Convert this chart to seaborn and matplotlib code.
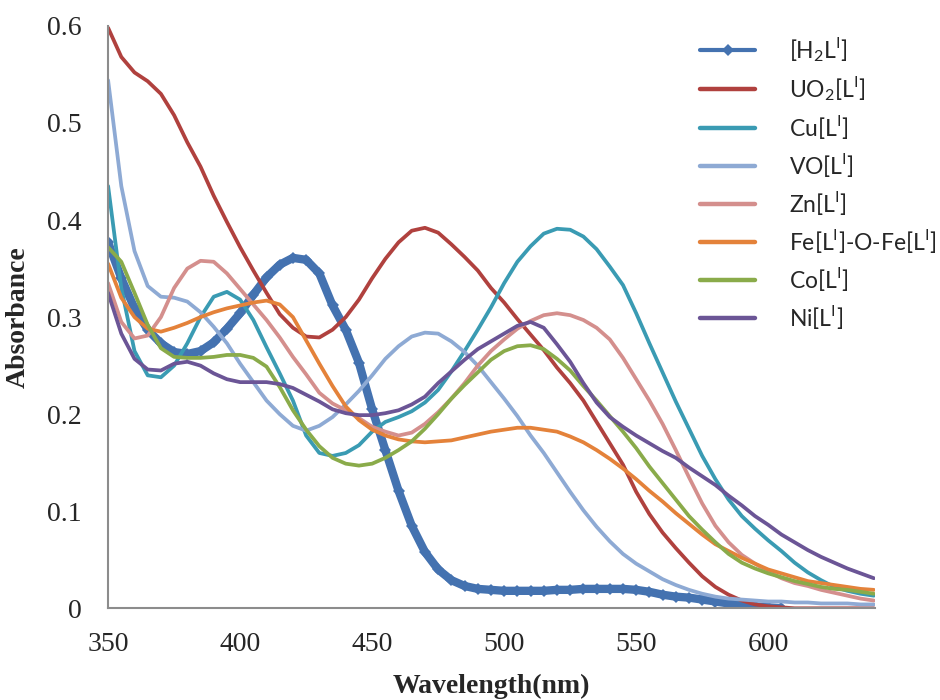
import matplotlib
matplotlib.use("Agg")
import matplotlib.pyplot as plt
import seaborn as sns
from matplotlib.lines import Line2D

# wavelength grids (nm)
wl = list(range(350, 645, 5))
wl_h2l = list(range(350, 610, 5))

h2l = [0.377, 0.340, 0.309, 0.287, 0.273, 0.264, 0.262, 0.265, 0.274, 0.288,
       0.304, 0.323, 0.341, 0.354, 0.361, 0.359, 0.345, 0.312, 0.287, 0.253,
       0.205, 0.163, 0.121, 0.085, 0.058, 0.040, 0.029, 0.023, 0.020, 0.019,
       0.018, 0.018, 0.018, 0.018, 0.019, 0.019, 0.020, 0.020, 0.020, 0.020,
       0.019, 0.017, 0.014, 0.012, 0.011, 0.009, 0.007, 0.005, 0.003, 0.002,
       0.001, 0.000]

uo2 = [0.598, 0.568, 0.552, 0.543, 0.530, 0.508, 0.480, 0.455, 0.425, 0.398,
       0.372, 0.348, 0.325, 0.303, 0.289, 0.280, 0.279, 0.287, 0.300, 0.318,
       0.340, 0.360, 0.377, 0.389, 0.392, 0.387, 0.375, 0.362, 0.348, 0.330,
       0.315, 0.298, 0.282, 0.266, 0.248, 0.232, 0.214, 0.192, 0.170, 0.148,
       0.120, 0.097, 0.078, 0.062, 0.047, 0.033, 0.022, 0.014, 0.008, 0.004,
       0.002, 0.001, 0.000, 0.000, 0.000, 0.000, 0.000, 0.000, 0.000]

cu = [0.435, 0.330, 0.265, 0.240, 0.238, 0.250, 0.273, 0.300, 0.321, 0.326,
      0.318, 0.297, 0.269, 0.242, 0.214, 0.178, 0.160, 0.157, 0.160, 0.168,
      0.182, 0.192, 0.197, 0.203, 0.212, 0.225, 0.244, 0.265, 0.287, 0.310,
      0.335, 0.357, 0.373, 0.386, 0.391, 0.390, 0.383, 0.370, 0.352, 0.333,
      0.304, 0.273, 0.243, 0.213, 0.185, 0.157, 0.133, 0.112, 0.095, 0.082,
      0.070, 0.059, 0.047, 0.037, 0.029, 0.022, 0.018, 0.015, 0.013]

vo = [0.544, 0.435, 0.368, 0.332, 0.321, 0.320, 0.316, 0.305, 0.290, 0.273,
      0.252, 0.233, 0.214, 0.200, 0.188, 0.183, 0.188, 0.197, 0.210, 0.224,
      0.240, 0.257, 0.270, 0.280, 0.284, 0.283, 0.275, 0.264, 0.250, 0.233,
      0.216, 0.198, 0.178, 0.160, 0.140, 0.120, 0.101, 0.084, 0.069, 0.056,
      0.046, 0.038, 0.030, 0.024, 0.019, 0.015, 0.012, 0.010, 0.009, 0.008,
      0.007, 0.007, 0.006, 0.006, 0.005, 0.005, 0.005, 0.004, 0.004]

zn = [0.335, 0.295, 0.278, 0.281, 0.300, 0.330, 0.350, 0.358, 0.357, 0.345,
      0.329, 0.313, 0.297, 0.279, 0.259, 0.241, 0.222, 0.211, 0.204, 0.196,
      0.187, 0.182, 0.178, 0.181, 0.190, 0.202, 0.216, 0.232, 0.250, 0.265,
      0.277, 0.288, 0.296, 0.302, 0.304, 0.302, 0.297, 0.289, 0.277, 0.258,
      0.236, 0.214, 0.190, 0.163, 0.135, 0.108, 0.085, 0.068, 0.055, 0.046,
      0.038, 0.031, 0.026, 0.023, 0.019, 0.016, 0.013, 0.010, 0.008]

fe = [0.355, 0.320, 0.300, 0.288, 0.285, 0.289, 0.294, 0.300, 0.305, 0.309,
      0.312, 0.315, 0.317, 0.313, 0.300, 0.276, 0.252, 0.229, 0.208, 0.194,
      0.184, 0.178, 0.174, 0.172, 0.171, 0.172, 0.173, 0.176, 0.179, 0.182,
      0.184, 0.186, 0.186, 0.184, 0.182, 0.177, 0.171, 0.163, 0.154, 0.144,
      0.133, 0.121, 0.110, 0.098, 0.087, 0.076, 0.066, 0.059, 0.052, 0.046,
      0.040, 0.036, 0.032, 0.028, 0.026, 0.024, 0.022, 0.020, 0.019]

co = [0.372, 0.357, 0.325, 0.292, 0.268, 0.259, 0.258, 0.258, 0.259, 0.261,
      0.261, 0.258, 0.249, 0.228, 0.204, 0.184, 0.167, 0.155, 0.149, 0.147,
      0.149, 0.155, 0.163, 0.172, 0.185, 0.200, 0.216, 0.230, 0.243, 0.256,
      0.265, 0.270, 0.271, 0.267, 0.257, 0.245, 0.229, 0.214, 0.198, 0.182,
      0.165, 0.146, 0.129, 0.112, 0.095, 0.081, 0.068, 0.056, 0.047, 0.041,
      0.036, 0.032, 0.028, 0.025, 0.022, 0.020, 0.019, 0.017, 0.015]

ni = [0.325, 0.283, 0.257, 0.246, 0.245, 0.252, 0.254, 0.250, 0.242, 0.236,
      0.233, 0.233, 0.233, 0.231, 0.227, 0.220, 0.213, 0.205, 0.201, 0.199,
      0.199, 0.201, 0.204, 0.210, 0.218, 0.232, 0.244, 0.256, 0.267, 0.275,
      0.283, 0.291, 0.295, 0.289, 0.272, 0.254, 0.232, 0.212, 0.197, 0.187,
      0.178, 0.170, 0.162, 0.155, 0.145, 0.136, 0.127, 0.116, 0.106, 0.095,
      0.086, 0.076, 0.068, 0.060, 0.053, 0.047, 0.041, 0.036, 0.031]

labels = [r"[H$_\mathregular{2}$L$^\mathregular{I}$]",
          r"UO$_\mathregular{2}$[L$^\mathregular{I}$]",
          r"Cu[L$^\mathregular{I}$]",
          r"VO[L$^\mathregular{I}$]",
          r"Zn[L$^\mathregular{I}$]",
          r"Fe[L$^\mathregular{I}$]-O-Fe[L$^\mathregular{I}$]",
          r"Co[L$^\mathregular{I}$]",
          r"Ni[L$^\mathregular{I}$]"]
colors = ["#4472b0", "#b0413e", "#3a9bb3", "#8eaad4",
          "#d48f8d", "#e4823a", "#8aab4a", "#6b5596"]

sns.set_style("white")
plt.rcParams["font.family"] = ["Liberation Serif", "DejaVu Serif"]

fig = plt.figure(figsize=(9.4, 7), dpi=100)
ax = fig.add_axes([0.115, 0.131, 0.816, 0.832])

# ligand: thick band of diamond markers
sns.lineplot(x=wl_h2l, y=h2l, color=colors[0], lw=6, marker="D", ms=6,
             markeredgewidth=0, ax=ax, solid_joinstyle="round")

series = [uo2, cu, vo, zn, fe, co, ni]
for vals, col in zip(series, colors[1:]):
    sns.lineplot(x=wl, y=vals, color=col, lw=2.7, ax=ax,
                 solid_joinstyle="round")

ax.set_xlim(350, 640.5)
ax.set_ylim(0, 0.6)
ax.set_xticks([350, 400, 450, 500, 550, 600])
ax.set_yticks([0, 0.1, 0.2, 0.3, 0.4, 0.5, 0.6])
ax.set_yticklabels(["0", "0.1", "0.2", "0.3", "0.4", "0.5", "0.6"])
ax.tick_params(axis="both", length=0, labelsize=20)
ax.tick_params(axis="x", pad=17)
ax.tick_params(axis="y", pad=19)

for s in ["top", "right"]:
    ax.spines[s].set_visible(False)
for s in ["left", "bottom"]:
    ax.spines[s].set_color("#8c8c8c")
    ax.spines[s].set_linewidth(1.5)

ax.set_xlabel("Wavelength(nm)", fontsize=20, fontweight="bold", labelpad=12)
ax.set_ylabel("Absorbance", fontsize=20, fontweight="bold", labelpad=12)

handles = [Line2D([0, 0.5, 1], [0, 0, 0], color=colors[0], lw=3, marker="D",
                  ms=6, markevery=[1], markeredgewidth=0)]
for col in colors[1:]:
    handles.append(Line2D([], [], color=col, lw=3.2))

leg = ax.legend(handles, labels, loc="upper left",
                bbox_to_anchor=(700 / 940, 1 - 35 / 700),
                bbox_transform=fig.transFigure, frameon=False,
                prop={"family": "Lato", "size": 16.5},
                handlelength=2.4, handletextpad=1.5, labelspacing=0.44,
                borderpad=0, borderaxespad=0)

fig.savefig("out.png", dpi=100)
